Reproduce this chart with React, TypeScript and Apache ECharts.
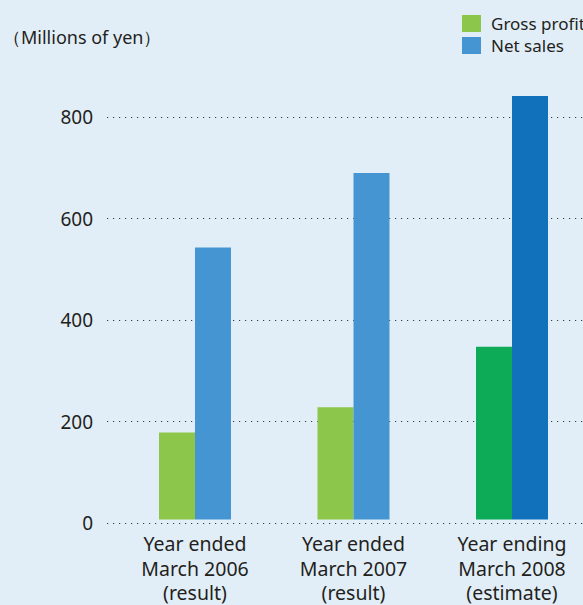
import React, { useEffect, useRef } from "react";
import * as echarts from "echarts";

const categories = ["Year ended\nMarch 2006\n(result)", "Year ended\nMarch 2007\n(result)", "Year ending\nMarch 2008\n(estimate)"];
const grossProfit = [173, 223, 343];
const netSales = [540, 688, 841];
const seriesNames = ["Gross profit", "Net sales"];
const unitLabel = "（Millions of yen）";

const FONT = "Noto Sans";
const TEXT = "#231f20";
const GREEN = "#8cc64a";
const BLUE = "#4495d2";
const GREEN_EST = "#0dab58";
const BLUE_EST = "#1172bb";

export default function App() {
  const ref = useRef<HTMLDivElement>(null);
  useEffect(() => {
    if (!ref.current) return;
    const chart = echarts.init(ref.current, null, { renderer: "svg" });
    const last = categories.length - 1;
    chart.setOption({
      animation: false,
      backgroundColor: "#e2eef7",
      textStyle: { fontFamily: FONT, color: TEXT },
      legend: {
        orient: "vertical",
        left: 462,
        top: 15,
        padding: 0,
        itemWidth: 19,
        itemHeight: 17,
        itemGap: 5,
        icon: "rect",
        data: seriesNames,
        textStyle: { fontFamily: FONT, fontSize: 17, color: TEXT, padding: [0, 0, 0, 5] },
      },
      graphic: [
        {
          type: "text",
          left: 3,
          top: 28,
          style: { text: unitLabel, fontFamily: FONT, fontSize: 18, fill: TEXT },
        },
      ],
      grid: [
        { left: 195, top: 66.25, width: 317, height: 456.75 },
        { left: 107, top: 117, right: 0, height: 406 },
      ],
      xAxis: [
        {
          type: "category",
          gridIndex: 0,
          data: categories,
          boundaryGap: false,
          axisLine: { show: false },
          axisTick: { show: false },
          axisLabel: { margin: 12, fontFamily: FONT, fontSize: 19.5, lineHeight: 24.5, color: TEXT },
        },
        {
          type: "category",
          gridIndex: 1,
          data: categories,
          show: false,
        },
      ],
      yAxis: [
        {
          type: "value",
          gridIndex: 0,
          min: 0,
          max: 900,
          interval: 300,
          show: false,
          splitLine: { show: false },
        },
        {
          type: "value",
          gridIndex: 1,
          min: 0,
          max: 800,
          interval: 200,
          axisLine: { show: false },
          axisTick: { show: false },
          axisLabel: { margin: 14, fontFamily: FONT, fontSize: 19, color: TEXT },
          splitLine: { show: true, lineStyle: { color: "#3a3a3a", width: 1.2, type: [1.2, 4.8] } },
        },
      ],
      series: [
        {
          name: seriesNames[0],
          type: "bar",
          xAxisIndex: 0,
          yAxisIndex: 0,
          barWidth: 36,
          barGap: "0%",
          clip: false,
          itemStyle: { color: GREEN },
          data: grossProfit.map((v, i) => (i === last ? { value: v, itemStyle: { color: GREEN_EST } } : v)),
        },
        {
          name: seriesNames[1],
          type: "bar",
          xAxisIndex: 0,
          yAxisIndex: 0,
          barWidth: 36,
          barGap: "0%",
          clip: false,
          itemStyle: { color: BLUE },
          data: netSales.map((v, i) => (i === last ? { value: v, itemStyle: { color: BLUE_EST } } : v)),
        },
      ],
    });
    return () => chart.dispose();
  }, []);
  return <div ref={ref} style={{ position: "fixed", left: 0, top: 0, width: 583, height: 605 }} />;
}
